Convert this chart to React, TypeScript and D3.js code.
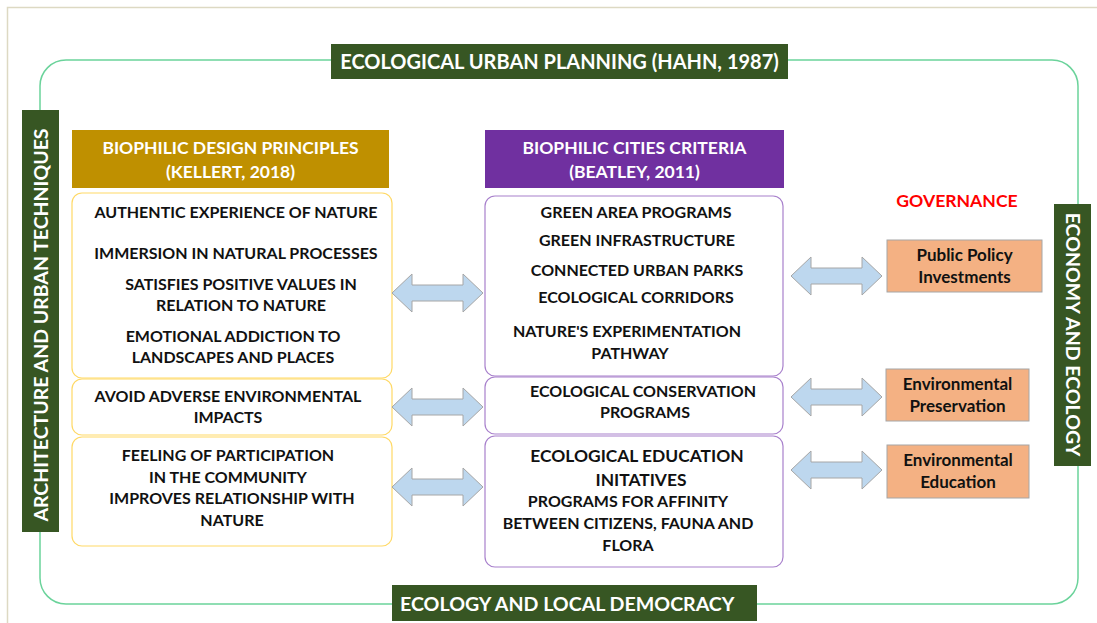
import React from "react";
import * as d3 from "d3";

const W = 1097;
const H = 623;

const topTitle = "ECOLOGICAL URBAN PLANNING (HAHN, 1987)";
const bottomTitle = "ECOLOGY AND LOCAL DEMOCRACY";
const leftTitle = "ARCHITECTURE AND URBAN TECHNIQUES";
const rightTitle = "ECONOMY AND ECOLOGY";
const governance = "GOVERNANCE";

const designHeader = ["BIOPHILIC DESIGN PRINCIPLES", "(KELLERT, 2018)"];
const citiesHeader = ["BIOPHILIC CITIES CRITERIA", "(BEATLEY, 2011)"];

// [text, centerX, centerY]
const designLines: [string, number, number][] = [
  ["AUTHENTIC EXPERIENCE OF NATURE", 236, 212],
  ["IMMERSION IN NATURAL PROCESSES", 236, 253],
  ["SATISFIES POSITIVE VALUES IN", 241, 284],
  ["RELATION TO NATURE", 241, 305],
  ["EMOTIONAL ADDICTION TO", 233, 336],
  ["LANDSCAPES AND PLACES", 233, 357],
  ["AVOID ADVERSE ENVIRONMENTAL", 228, 396],
  ["IMPACTS", 228, 417],
  ["FEELING OF PARTICIPATION", 228, 455],
  ["IN THE COMMUNITY", 228, 477],
  ["IMPROVES RELATIONSHIP WITH", 232, 498],
  ["NATURE", 232, 520],
];

const citiesLines: [string, number, number, number][] = [
  ["GREEN AREA PROGRAMS", 636, 212, 16],
  ["GREEN INFRASTRUCTURE", 637, 240, 16],
  ["CONNECTED URBAN PARKS", 637, 270, 16],
  ["ECOLOGICAL CORRIDORS", 636, 297, 16],
  ["NATURE'S EXPERIMENTATION", 627, 331, 16],
  ["PATHWAY", 630, 353, 16],
  ["ECOLOGICAL CONSERVATION", 643, 391, 16],
  ["PROGRAMS", 645, 412, 16],
  ["ECOLOGICAL EDUCATION", 637, 456, 17.4],
  ["INITATIVES", 641, 480, 17.4],
  ["PROGRAMS FOR AFFINITY", 628, 501, 16],
  ["BETWEEN CITIZENS, FAUNA AND", 628, 523, 16],
  ["FLORA", 628, 545, 16],
];

// [x, y, w, h]
const designBoxes: [number, number, number, number][] = [
  [72, 193, 320, 185],
  [72, 379, 320, 56],
  [72, 437, 320, 109],
];
const citiesBoxes: [number, number, number, number][] = [
  [485, 196, 298, 180],
  [485, 377, 298, 57],
  [485, 436, 298, 131],
];

// [x0, x1, cy]
const arrows: [number, number, number][] = [
  [392, 483, 293],
  [392, 483, 407],
  [392, 483, 487],
  [791, 882, 276],
  [791, 882, 397],
  [791, 882, 470],
];

// [x, y, w, h, line1, line2]
const govBoxes: [number, number, number, number, string, string][] = [
  [887, 240, 155, 52, "Public Policy", "Investments"],
  [886, 369, 143, 52, "Environmental", "Preservation"],
  [887, 445, 142, 53, "Environmental", "Education"],
];

const FONT = "Lato, 'Open Sans', sans-serif";

function doubleArrow(x0: number, x1: number, cy: number): string {
  const head = 20;
  const hh = 19;
  const bh = 8;
  const p = d3.path();
  p.moveTo(x0, cy);
  p.lineTo(x0 + head, cy - hh);
  p.lineTo(x0 + head, cy - bh);
  p.lineTo(x1 - head, cy - bh);
  p.lineTo(x1 - head, cy - hh);
  p.lineTo(x1, cy);
  p.lineTo(x1 - head, cy + hh);
  p.lineTo(x1 - head, cy + bh);
  p.lineTo(x0 + head, cy + bh);
  p.lineTo(x0 + head, cy + hh);
  p.closePath();
  return p.toString();
}

export default function App() {
  const darkGreen = "#375623";
  return (
    <svg
      width={W}
      height={H}
      style={{ position: "absolute", left: 0, top: 0, background: "#fff" }}
      fontFamily={FONT}
      fontWeight={700}
    >
      <rect x={0} y={0} width={W} height={H} fill="#fff" />
      {/* page frame */}
      <rect x={7.5} y={7.5} width={W + 20} height={H + 20} fill="none" stroke="#DDD9C3" strokeWidth={1.5} />
      {/* outer green rounded frame */}
      <rect x={40} y={60} width={1038} height={544} rx={26} fill="none" stroke="#6BD39B" strokeWidth={1.5} />

      {/* top title */}
      <rect x={331} y={44} width={457} height={35} fill={darkGreen} />
      <text x={559.5} y={68.5} fill="#fff" fontSize={20} textAnchor="middle">{topTitle}</text>
      {/* bottom title */}
      <rect x={392} y={585} width={365} height={36} fill={darkGreen} />
      <text x={400} y={610.5} fill="#fff" fontSize={19.6}>{bottomTitle}</text>
      {/* left vertical */}
      <rect x={22} y={110} width={37} height={422} fill={darkGreen} />
      <text transform="translate(47.5,325) rotate(-90)" fill="#fff" fontSize={19.5} textAnchor="middle">{leftTitle}</text>
      {/* right vertical */}
      <rect x={1054} y={204} width={37} height={262} fill={darkGreen} />
      <text transform="translate(1065.5,334.5) rotate(90)" fill="#fff" fontSize={19.5} textAnchor="middle">{rightTitle}</text>

      {/* headers */}
      <rect x={72} y={130} width={317} height={58} fill="#BF9000" />
      <text x={230.5} y={154} fill="#fff" fontSize={17.5} textAnchor="middle">{designHeader[0]}</text>
      <text x={230.5} y={178} fill="#fff" fontSize={17.5} textAnchor="middle">{designHeader[1]}</text>
      <rect x={485} y={130} width={299} height={58} fill="#7030A0" />
      <text x={634.5} y={154} fill="#fff" fontSize={17.5} textAnchor="middle">{citiesHeader[0]}</text>
      <text x={634.5} y={178} fill="#fff" fontSize={17.5} textAnchor="middle">{citiesHeader[1]}</text>

      {/* boxes */}
      {designBoxes.map(([x, y, w, h], i) => (
        <rect key={"d" + i} x={x} y={y} width={w} height={h} rx={10} fill="#fff" stroke="#FFD966" strokeWidth={1.2} />
      ))}
      {citiesBoxes.map(([x, y, w, h], i) => (
        <rect key={"c" + i} x={x} y={y} width={w} height={h} rx={10} fill="#fff" stroke="#A880CC" strokeWidth={1.2} />
      ))}

      {designLines.map(([t, x, y], i) => (
        <text key={"dl" + i} x={x} y={y + 6} fill="#111" fontSize={16} textAnchor="middle">{t}</text>
      ))}
      {citiesLines.map(([t, x, y, fs], i) => (
        <text key={"cl" + i} x={x} y={y + fs * 0.37} fill="#111" fontSize={fs} textAnchor="middle">{t}</text>
      ))}

      {/* arrows */}
      {arrows.map(([x0, x1, cy], i) => (
        <path key={"a" + i} d={doubleArrow(x0, x1, cy)} fill="#BDD7EE" stroke="#A6A6A6" strokeWidth={1} />
      ))}

      {/* governance */}
      <text x={957} y={206.5} fill="#FF0000" fontSize={17.6} textAnchor="middle">{governance}</text>
      {govBoxes.map(([x, y, w, h, l1, l2], i) => (
        <g key={"g" + i}>
          <rect x={x} y={y} width={w} height={h} fill="#F4B183" stroke="#A6A6A6" strokeWidth={1} />
          <text x={x + w / 2} y={y + 20.5} fill="#111" fontSize={17} textAnchor="middle">{l1}</text>
          <text x={x + w / 2} y={y + 42.5} fill="#111" fontSize={17} textAnchor="middle">{l2}</text>
        </g>
      ))}
    </svg>
  );
}
